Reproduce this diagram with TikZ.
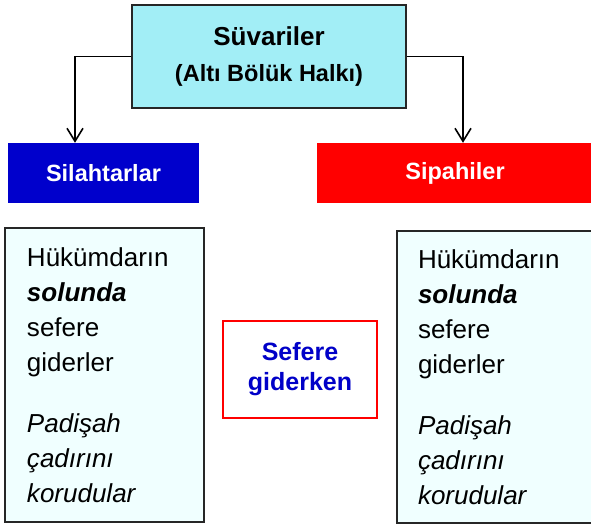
\documentclass[tikz,border=0pt]{standalone}
\usepackage{fontspec}
\setmainfont{Liberation Sans}
\usepackage{tikz}
\usetikzlibrary{arrows.meta}
\usepackage{xcolor}
\definecolor{title-cyan}{RGB}{162,238,246}
\definecolor{pale-cyan}{RGB}{240,255,255}
\definecolor{silah-blue}{RGB}{0,0,204}
\definecolor{sefer-blue}{RGB}{0,0,200}
\tikzstyle{titlebox}=[draw=black!85, line width=2pt, fill=title-cyan, align=center, inner sep=0pt, font=\fontsize{26}{36}\selectfont\bfseries]
\tikzstyle{unitbox}=[fill, text=white, inner sep=0pt, minimum height=60pt, font=\fontsize{23.5}{28}\selectfont\bfseries]
\tikzstyle{notebox}=[draw=black!85, line width=1.8pt, fill=pale-cyan, align=left, inner sep=0pt, font=\fontsize{26}{35}\selectfont]
\tikzstyle{link}=[line width=1.6pt, -{Straight Barb[length=13pt,width=16pt,line width=1.6pt]}]

\begin{document}
\begin{tikzpicture}[x=1pt,y=-1pt]
	\useasboundingbox (0,0) rectangle (591,524);
	\node[titlebox, minimum width=274pt, minimum height=103pt] (suvari) at (269,56.5) {Süvariler\\{\fontsize{23.5}{36}\selectfont (Altı Bölük Halkı)}};
	\node[unitbox, fill=silah-blue, minimum width=191pt] (silah) at (103.5,173) {Silahtarlar};
	\node[unitbox, fill=red, minimum width=276pt] (sipahi) at (455,173) {Sipahiler};
	\draw[link] (suvari.west) -| ([xshift=-28.5pt]silah.north);
	\draw[link] (suvari.east) -| ([xshift=8pt]sipahi.north);
	\node[notebox, minimum width=199pt, minimum height=294pt, text width=155pt] (solnote) at (104.5,375) {Hükümdarın\\\textbf{\textit{solunda}}\\sefere\\giderler\\[26pt]\textit{Padişah}\\\textit{çadırını}\\\textit{korudular}};
	\node[notebox, minimum width=196pt, minimum height=292pt, text width=154pt] (sagnote) at (495,377) {Hükümdarın\\\textbf{\textit{solunda}}\\sefere\\giderler\\[26pt]\textit{Padişah}\\\textit{çadırını}\\\textit{korudular}};
	\node[draw=red, line width=1.6pt, fill=white, minimum width=154pt, minimum height=97pt, align=center, text=sefer-blue, font=\fontsize{25}{30}\selectfont\bfseries] (sefer) at (300,369.5) {Sefere\\giderken};
\end{tikzpicture}
\end{document}
